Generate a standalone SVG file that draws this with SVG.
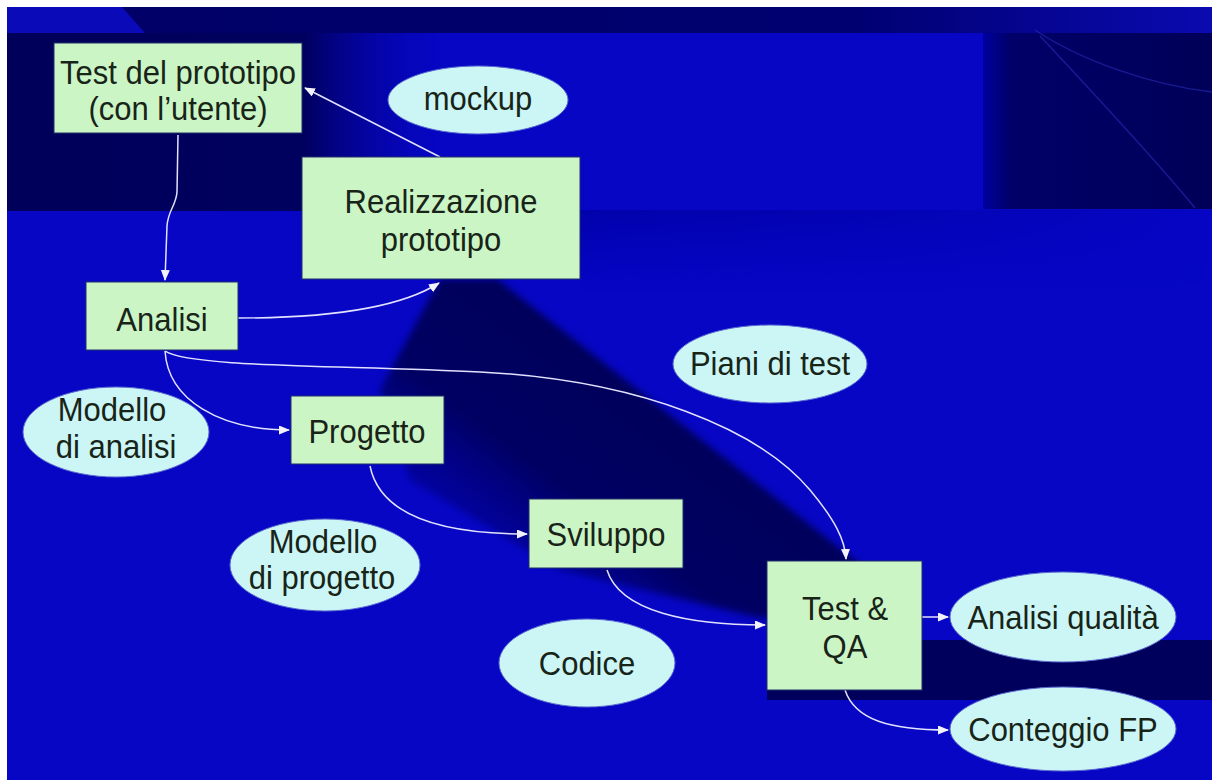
<svg xmlns="http://www.w3.org/2000/svg" width="1212" height="780" viewBox="0 0 1212 780">
  <defs>
    <style>
      .box { fill: #ccf5c6; stroke: #23306a; stroke-width: 1; }
      .ell { fill: #ccf6f6; stroke: #5a6ad0; stroke-width: 1; }
      .lbl { font-family: "Liberation Sans", Arial, sans-serif; font-size: 31px; fill: #182418; text-anchor: middle; }
      .con { fill: none; stroke: #e2e2ff; stroke-width: 1.5; marker-end: url(#arr); }
      .faint { fill: none; stroke: #2a2ab8; stroke-width: 1.5; opacity: 0.6; }
    </style>
    <marker id="arr" markerUnits="userSpaceOnUse" markerWidth="12" markerHeight="10" refX="10" refY="4.5" orient="auto">
      <path d="M0,0 L11,4.5 L0,9 z" fill="#f2f2ff"/>
    </marker>
    <linearGradient id="leftDark" x1="0" y1="0" x2="1" y2="0">
      <stop offset="0" stop-color="#00005a"/>
      <stop offset="0.66" stop-color="#00005e"/>
      <stop offset="1" stop-color="#0606c4" stop-opacity="0"/>
    </linearGradient>
    <linearGradient id="rightDark" x1="0" y1="0" x2="1" y2="0">
      <stop offset="0" stop-color="#0000a0"/>
      <stop offset="0.12" stop-color="#000068"/>
      <stop offset="1" stop-color="#000058"/>
    </linearGradient>
    <linearGradient id="topBand" x1="0" y1="0" x2="1" y2="0">
      <stop offset="0" stop-color="#000066"/>
      <stop offset="0.7" stop-color="#000070"/>
      <stop offset="1" stop-color="#0a0ab0"/>
    </linearGradient>
    <linearGradient id="midBand" x1="0" y1="0" x2="0" y2="1">
      <stop offset="0" stop-color="#0000a0" stop-opacity="0.7"/>
      <stop offset="1" stop-color="#0000b0" stop-opacity="0"/>
    </linearGradient>
    <linearGradient id="fadeRight" x1="0" y1="0" x2="1" y2="0">
      <stop offset="0" stop-color="#fff"/>
      <stop offset="0.5" stop-color="#fff" stop-opacity="0.6"/>
      <stop offset="1" stop-color="#fff" stop-opacity="0"/>
    </linearGradient>
    <mask id="midMask" maskUnits="userSpaceOnUse" x="580" y="210" width="632" height="80">
      <rect x="580" y="210" width="632" height="80" fill="url(#fadeRight)"/>
    </mask>
    <linearGradient id="wedge" gradientUnits="userSpaceOnUse" x1="675" y1="420" x2="490" y2="665">
      <stop offset="0" stop-color="#00005a"/>
      <stop offset="0.4" stop-color="#000064"/>
      <stop offset="0.72" stop-color="#000090" stop-opacity="0.55"/>
      <stop offset="1" stop-color="#0606c4" stop-opacity="0"/>
    </linearGradient>
    <filter id="soft" x="-10%" y="-10%" width="120%" height="120%">
      <feGaussianBlur stdDeviation="3.5"/>
    </filter>
  </defs>

  <!-- background -->
  <rect x="0" y="0" width="1212" height="780" fill="#ffffff"/>
  <rect x="7" y="7" width="1205" height="773" fill="#0606c4"/>
  <rect x="580" y="210" width="632" height="80" fill="url(#midBand)" mask="url(#midMask)"/>
  <polygon points="7,7 1212,7 1212,33 7,33" fill="url(#topBand)"/>
  <polygon points="7,7 122,7 145,33 7,33" fill="#0a0ab8"/>
  <rect x="7" y="33" width="450" height="178" fill="url(#leftDark)"/>
  <rect x="983" y="33" width="229" height="176" fill="url(#rightDark)"/>
  <path class="faint" d="M1035,30 C1080,60 1150,85 1212,92"/>
  <path class="faint" d="M1040,36 C1100,100 1160,165 1195,208"/>
  <polygon filter="url(#soft)" fill="url(#wedge)" points="440,279 497,279 870,572 872,615 760,618 560,570 410,480 380,390"/>
  <rect x="767" y="640" width="445" height="60" fill="#00005c"/>

  <!-- connectors -->
  <g id="connectors">
    <path class="con" d="M178,135 L177,192 C176,206 168,210 167,226 L165,280"/>
    <path class="con" d="M440,157 L305,88"/>
    <path class="con" d="M238,318 C330,318 400,308 439,283"/>
    <path class="con" d="M165,351 C168,400 220,430 289,430"/>
    <path class="con" d="M165,351 C190,368 350,365 480,372 C640,380 760,430 810,490 C835,520 845,540 846,559"/>
    <path class="con" d="M370,466 C380,515 440,534 527,534"/>
    <path class="con" d="M607,570 C620,612 690,625 765,625"/>
    <path class="con" d="M922,617 L948,617"/>
    <path class="con" d="M845,690 C855,720 890,730 948,730"/>
  </g>

  <!-- nodes -->
  <g id="n-test-prototipo">
    <rect class="box" x="54" y="43" width="248" height="90"/>
    <text class="lbl" transform="translate(178,84) scale(1,1.07)">Test del prototipo</text>
    <text class="lbl" transform="translate(178,120) scale(1,1.07)">(con l’utente)</text>
  </g>
  <g id="n-mockup">
    <ellipse class="ell" cx="478" cy="100" rx="90" ry="34"/>
    <text class="lbl" transform="translate(478,110) scale(1,1.07)">mockup</text>
  </g>
  <g id="n-realizzazione">
    <rect class="box" x="302" y="157" width="278" height="122"/>
    <text class="lbl" transform="translate(441,213) scale(1,1.07)">Realizzazione</text>
    <text class="lbl" transform="translate(441,251) scale(1,1.07)">prototipo</text>
  </g>
  <g id="n-analisi">
    <rect class="box" x="86" y="282" width="152" height="68"/>
    <text class="lbl" transform="translate(162,331) scale(1,1.07)">Analisi</text>
  </g>
  <g id="n-piani">
    <ellipse class="ell" cx="770" cy="364" rx="97" ry="39"/>
    <text class="lbl" transform="translate(770,375) scale(1,1.07)">Piani di test</text>
  </g>
  <g id="n-modello-analisi">
    <ellipse class="ell" cx="116" cy="432" rx="93" ry="45"/>
    <text class="lbl" transform="translate(112,421) scale(1,1.07)">Modello</text>
    <text class="lbl" transform="translate(116,458) scale(1,1.07)">di analisi</text>
  </g>
  <g id="n-progetto">
    <rect class="box" x="291" y="396" width="153" height="68"/>
    <text class="lbl" transform="translate(367,443) scale(1,1.07)">Progetto</text>
  </g>
  <g id="n-modello-progetto">
    <ellipse class="ell" cx="325" cy="565" rx="95" ry="46"/>
    <text class="lbl" transform="translate(323,553) scale(1,1.07)">Modello</text>
    <text class="lbl" transform="translate(322,589) scale(1,1.07)">di progetto</text>
  </g>
  <g id="n-sviluppo">
    <rect class="box" x="529" y="499" width="154" height="69"/>
    <text class="lbl" transform="translate(606,546) scale(1,1.07)">Sviluppo</text>
  </g>
  <g id="n-codice">
    <ellipse class="ell" cx="587" cy="663" rx="88" ry="44"/>
    <text class="lbl" transform="translate(587,675) scale(1,1.07)">Codice</text>
  </g>
  <g id="n-testqa">
    <rect class="box" x="767" y="561" width="155" height="129"/>
    <text class="lbl" transform="translate(845,620) scale(1,1.07)">Test &amp;</text>
    <text class="lbl" transform="translate(845,658) scale(1,1.07)">QA</text>
  </g>
  <g id="n-analisi-qualita">
    <ellipse class="ell" cx="1063" cy="617" rx="113" ry="45"/>
    <text class="lbl" transform="translate(1063,629) scale(1,1.07)">Analisi qualità</text>
  </g>
  <g id="n-conteggio">
    <ellipse class="ell" cx="1063" cy="729" rx="113" ry="42"/>
    <text class="lbl" transform="translate(1063,741) scale(1,1.07)">Conteggio FP</text>
  </g>
</svg>
